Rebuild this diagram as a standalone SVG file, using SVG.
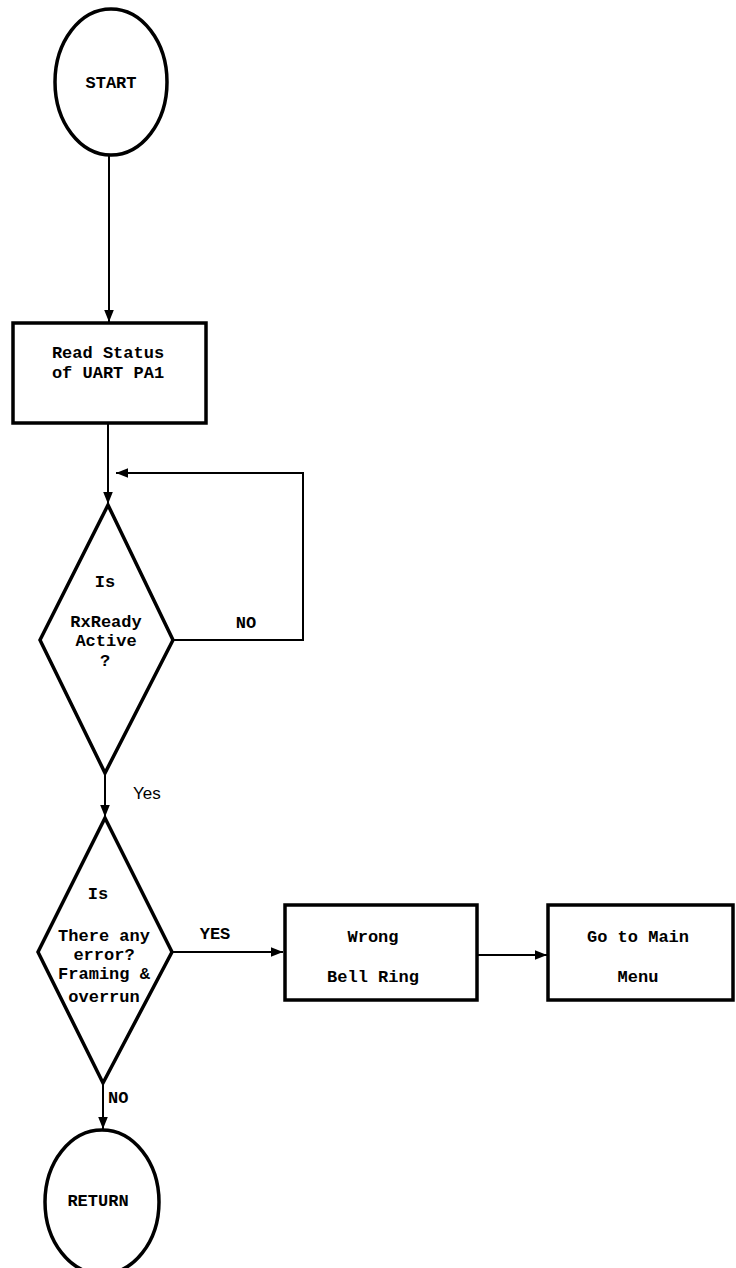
<svg xmlns="http://www.w3.org/2000/svg" width="736" height="1268" viewBox="0 0 736 1268">
<defs>
<marker id="ah" viewBox="0 0 10 10" refX="10" refY="5" markerWidth="12" markerHeight="12" markerUnits="userSpaceOnUse" orient="auto">
<path d="M0,1 L10,5 L0,9 Z" fill="#000"/>
</marker>
</defs>
<style>
.s{fill:#fff;stroke:#000;stroke-width:3.5}
.c{fill:none;stroke:#000;stroke-width:2}
text{font-family:"Liberation Mono","DejaVu Sans Mono",monospace;font-weight:bold;font-size:17px;fill:#000;text-anchor:middle}
</style>
<rect width="736" height="1268" fill="#fff"/>
<g id="connectors">
<path class="c" d="M109,155 V322" marker-end="url(#ah)"/>
<path class="c" d="M108,423 V504" marker-end="url(#ah)"/>
<path class="c" d="M173,640 H303 V473 H116" marker-end="url(#ah)"/>
<path class="c" d="M105,773 V817" marker-end="url(#ah)"/>
<path class="c" d="M172,952 H283" marker-end="url(#ah)"/>
<path class="c" d="M477,955 H547" marker-end="url(#ah)"/>
<path class="c" d="M103,1083 V1129" marker-end="url(#ah)"/>
</g>
<g id="labels">
<text x="246" y="628">NO</text>
<text x="133" y="799" style="text-anchor:start;font-weight:normal;font-family:'Liberation Sans',sans-serif">Yes</text>
<text x="215" y="939">YES</text>
<text x="108" y="1103" style="text-anchor:start">NO</text>
</g>
<g id="start">
<ellipse class="s" cx="111" cy="82" rx="56" ry="73"/>
<text x="111" y="88">START</text>
</g>
<g id="read">
<rect class="s" x="13" y="323" width="193" height="100"/>
<text x="108" y="358">Read Status</text>
<text x="108" y="378">of UART PA1</text>
</g>
<g id="rxready">
<polygon class="s" points="108,505 173,640 105,773 40,640"/>
<text x="105" y="587">Is</text>
<text x="106" y="627">RxReady</text>
<text x="106" y="646">Active</text>
<text x="105" y="666">?</text>
</g>
<g id="error">
<polygon class="s" points="105,818 172,952 103,1083 38,952"/>
<text x="98" y="899">Is</text>
<text x="104" y="941">There any</text>
<text x="104" y="960">error?</text>
<text x="104" y="979">Framing &amp;</text>
<text x="104" y="1002">overrun</text>
</g>
<g id="wrong">
<rect class="s" x="285" y="905" width="192" height="95"/>
<text x="373" y="942">Wrong</text>
<text x="373" y="982">Bell Ring</text>
</g>
<g id="menu">
<rect class="s" x="548" y="905" width="185" height="95"/>
<text x="638" y="942">Go to Main</text>
<text x="638" y="982">Menu</text>
</g>
<g id="return">
<ellipse class="s" cx="102" cy="1202" rx="57" ry="72"/>
<text x="98" y="1206">RETURN</text>
</g>
</svg>
